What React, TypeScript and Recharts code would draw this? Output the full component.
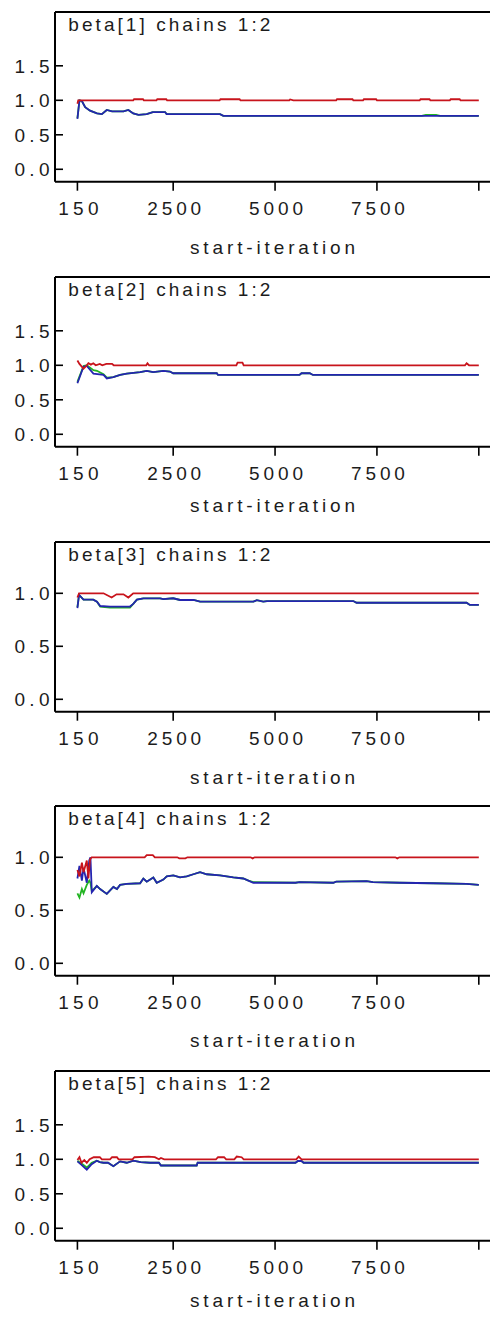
import React from 'react';
import { LineChart, Line, XAxis, YAxis, ReferenceLine } from 'recharts';

type Pt = [number, number];

// ---------- axis / tick data ----------
const xTicks = [150, 2500, 5000, 7500, 10000];
const xTickLabels = ['150', '2500', '5000', '7500', ''];
const yTicksWide = [0, 0.5, 1, 1.5];
const yTicksNarrow = [0, 0.5, 1];
const yTickLabels: Record<string, string> = { '0': '0.0', '0.5': '0.5', '1': '1.0', '1.5': '1.5' };
const titles = [
  'beta[1] chains 1:2',
  'beta[2] chains 1:2',
  'beta[3] chains 1:2',
  'beta[4] chains 1:2',
  'beta[5] chains 1:2',
];
const xAxisLabel = 'start-iteration';

// ---------- beta[1] ----------
const beta1Red: Pt[] = [[150,0.95],[170,1.0],[1520,1.0],[1540,1.015],[1760,1.015],[1780,1.0],[2090,1.0],[2110,1.015],[2330,1.015],[2350,1.0],[3640,1.0],[3660,1.015],[4130,1.015],[4150,1.0],[5350,1.0],[5370,1.012],[5450,1.0],[6500,1.0],[6520,1.015],[6900,1.015],[6920,1.0],[7160,1.0],[7180,1.015],[7480,1.015],[7500,1.0],[8550,1.0],[8570,1.015],[8790,1.015],[8810,1.0],[9290,1.0],[9310,1.015],[9530,1.015],[9550,1.0],[10000,1.0]];
const beta1Blue: Pt[] = [[150,0.73],[200,1.0],[260,0.99],[340,0.9],[460,0.85],[630,0.81],[750,0.8],[870,0.86],[1000,0.84],[1280,0.84],[1400,0.86],[1520,0.81],[1650,0.79],[1850,0.8],[2000,0.83],[2300,0.83],[2340,0.8],[3650,0.8],[3730,0.775],[10000,0.775]];
const beta1Green: Pt[] = [[150,0.74],[200,1.0],[260,0.99],[340,0.9],[460,0.85],[630,0.81],[750,0.8],[870,0.86],[1000,0.84],[1280,0.84],[1400,0.86],[1520,0.81],[1650,0.79],[1850,0.8],[2000,0.83],[2300,0.83],[2340,0.8],[3650,0.8],[3730,0.775],[8600,0.775],[8700,0.79],[8950,0.79],[9050,0.775],[10000,0.775]];

// ---------- beta[2] ----------
const beta2Red: Pt[] = [[150,1.07],[200,1.02],[300,0.95],[380,1.0],[420,1.03],[480,1.01],[540,1.03],[600,1.0],[700,1.02],[760,1.0],[860,1.02],[1000,1.02],[1040,1.0],[1840,1.0],[1870,1.03],[1910,1.0],[4050,1.0],[4080,1.04],[4200,1.04],[4230,1.0],[9660,1.0],[9700,1.03],[9760,1.0],[10000,1.0]];
const beta2Blue: Pt[] = [[150,0.74],[300,0.98],[380,0.99],[543,0.88],[790,0.86],[871,0.81],[1030,0.83],[1200,0.86],[1360,0.88],[1690,0.9],[1850,0.92],[2010,0.9],[2260,0.92],[2420,0.91],[2500,0.885],[3570,0.885],[3600,0.86],[5600,0.86],[5650,0.885],[5850,0.885],[5930,0.86],[10000,0.86]];
const beta2Green: Pt[] = [[150,0.76],[300,0.99],[380,1.0],[543,0.93],[630,0.92],[790,0.87],[871,0.82],[1030,0.83],[1200,0.86],[1360,0.88],[1690,0.9],[1850,0.92],[2010,0.9],[2260,0.92],[2420,0.91],[2500,0.885],[3570,0.885],[3600,0.86],[5600,0.86],[5650,0.885],[5850,0.885],[5930,0.86],[10000,0.86]];

// ---------- beta[3] ----------
const beta3Red: Pt[] = [[150,0.96],[190,1.0],[790,1.0],[990,0.96],[1110,0.99],[1280,0.99],[1400,0.96],[1520,1.0],[10000,1.0]];
const beta3Blue: Pt[] = [[150,0.86],[190,0.985],[300,0.94],[540,0.94],[630,0.92],[710,0.88],[950,0.875],[1440,0.875],[1520,0.9],[1610,0.94],[1770,0.953],[2180,0.953],[2260,0.945],[2500,0.953],[2670,0.937],[3000,0.937],[3160,0.921],[4470,0.921],[4550,0.935],[4710,0.921],[4800,0.927],[6920,0.927],[7000,0.911],[9700,0.911],[9780,0.89],[10000,0.89]];
const beta3Green: Pt[] = [[150,0.87],[190,0.985],[300,0.94],[540,0.94],[630,0.92],[710,0.875],[950,0.865],[1440,0.865],[1520,0.9],[1610,0.94],[1770,0.953],[2180,0.953],[2260,0.945],[2500,0.953],[2670,0.937],[3000,0.937],[3160,0.921],[4470,0.921],[4550,0.935],[4710,0.921],[4800,0.927],[6920,0.927],[7000,0.911],[9700,0.911],[9780,0.89],[10000,0.89]];

// ---------- beta[4] ----------
const beta4Red: Pt[] = [[150,0.88],[200,0.82],[260,0.95],[300,0.86],[380,0.97],[420,0.8],[460,0.98],[500,1.0],[1800,1.0],[1850,1.02],[2000,1.02],[2050,1.0],[2600,1.0],[2650,0.99],[2800,0.99],[2850,1.0],[4400,1.0],[4450,0.99],[4500,1.0],[7950,1.0],[8000,0.99],[8050,1.0],[10000,1.0]];
const beta4Blue: Pt[] = [[150,0.8],[200,0.92],[260,0.78],[300,0.9],[380,0.76],[440,0.97],[470,1.0],[503,0.67],[626,0.73],[707,0.7],[871,0.655],[1033,0.72],[1120,0.7],[1197,0.74],[1361,0.75],[1688,0.755],[1768,0.8],[1852,0.77],[2013,0.81],[2097,0.76],[2259,0.79],[2342,0.82],[2504,0.83],[2668,0.81],[2833,0.82],[2995,0.84],[3159,0.86],[3323,0.84],[3649,0.83],[3976,0.81],[4220,0.8],[4466,0.76],[5500,0.76],[5600,0.765],[6428,0.76],[6500,0.77],[7246,0.775],[7400,0.765],[8063,0.76],[8880,0.755],[9698,0.75],[10000,0.74]];
const beta4Green: Pt[] = [[150,0.66],[200,0.62],[260,0.7],[300,0.66],[380,0.74],[440,0.78],[470,0.76],[503,0.68],[626,0.73],[707,0.7],[871,0.655],[1033,0.72],[1120,0.7],[1197,0.74],[1361,0.75],[1688,0.755],[1768,0.8],[1852,0.77],[2013,0.81],[2097,0.76],[2259,0.79],[2342,0.82],[2504,0.83],[2668,0.81],[2833,0.82],[2995,0.84],[3159,0.86],[3323,0.84],[3649,0.83],[3976,0.81],[4220,0.8],[4350,0.78],[4466,0.765],[5500,0.76],[5600,0.765],[6428,0.76],[6500,0.77],[7246,0.775],[7400,0.765],[8063,0.76],[8880,0.755],[9698,0.75],[10000,0.74]];

// ---------- beta[5] ----------
const beta5Red: Pt[] = [[150,0.99],[200,1.03],[250,0.95],[320,0.99],[380,0.95],[450,1.0],[550,1.03],[700,1.03],[750,1.0],[950,1.0],[1000,1.03],[1120,1.03],[1160,1.0],[1500,1.0],[1550,1.03],[1900,1.04],[2050,1.03],[2150,1.0],[2200,1.02],[2280,1.0],[3550,1.0],[3600,1.03],[3750,1.03],[3800,1.0],[4000,1.0],[4060,1.04],[4180,1.03],[4230,1.0],[5520,1.0],[5580,1.04],[5650,1.0],[10000,1.0]];
const beta5Blue: Pt[] = [[150,0.97],[250,0.92],[380,0.85],[500,0.93],[626,0.98],[700,0.96],[788,0.95],[900,0.95],[1033,0.9],[1197,0.97],[1361,0.95],[1523,0.98],[1700,0.96],[1933,0.95],[2150,0.95],[2200,0.91],[3077,0.91],[3100,0.95],[5500,0.95],[5560,0.975],[5650,0.975],[5700,0.95],[10000,0.95]];
const beta5Green: Pt[] = [[150,0.98],[250,0.94],[380,0.88],[500,0.95],[626,0.98],[700,0.96],[788,0.95],[900,0.95],[1033,0.9],[1197,0.97],[1361,0.95],[1523,0.98],[1700,0.96],[1933,0.95],[2150,0.95],[2200,0.91],[3077,0.91],[3100,0.95],[5500,0.95],[5560,0.975],[5650,0.975],[5700,0.95],[10000,0.95]];

// ---------- layout / style ----------
const FONT = "'Liberation Sans', Arial, Helvetica, sans-serif";
const FS = 19;
const TEXT = '#1c1c1c';
const RED = '#c8141c';
const BLUE = '#2424b0';
const GREEN = '#22b422';
const X_DOMAIN: [number, number] = [-400, 10520];
const Y_DOMAIN_WIDE: [number, number] = [-0.18, 2.28];
const Y_DOMAIN_NARROW: [number, number] = [-0.117, 1.484];
const CHART_W = 500;
const CHART_H = 265;
const TOP_M = 12;
const PLOT_H = 169.7;
const Y_AXIS_W = 47;
const PANEL_STEP = 264.8;
const LABEL_BASELINES = [242, 235, 242, 241, 236];
const LINE_W = 1.8;

const toRows = (pts: Pt[]) => pts.map(([it, v]) => ({ it, v }));

const panels = [
  { title: titles[0], red: beta1Red, blue: beta1Blue, green: beta1Green, yDomain: Y_DOMAIN_WIDE, yTicks: yTicksWide },
  { title: titles[1], red: beta2Red, blue: beta2Blue, green: beta2Green, yDomain: Y_DOMAIN_WIDE, yTicks: yTicksWide },
  { title: titles[2], red: beta3Red, blue: beta3Blue, green: beta3Green, yDomain: Y_DOMAIN_NARROW, yTicks: yTicksNarrow },
  { title: titles[3], red: beta4Red, blue: beta4Blue, green: beta4Green, yDomain: Y_DOMAIN_NARROW, yTicks: yTicksNarrow },
  { title: titles[4], red: beta5Red, blue: beta5Blue, green: beta5Green, yDomain: Y_DOMAIN_WIDE, yTicks: yTicksWide },
];

const YTick = (props: any) => {
  const { y, payload } = props;
  const label = yTickLabels[String(payload.value)] ?? String(payload.value);
  return (
    <g>
      <line x1={Y_AXIS_W} x2={Y_AXIS_W + 8} y1={y} y2={y} stroke="#000" strokeWidth={1.6} />
      <text
        x={Y_AXIS_W - 5.5}
        y={y + 6.8}
        textAnchor="end"
        fontFamily={FONT}
        fontSize={FS}
        fill={TEXT}
        textLength={35}
        lengthAdjust="spacing"
      >
        {label}
      </text>
    </g>
  );
};

const XTick = (props: any) => {
  const { x, payload } = props;
  const idx = xTicks.indexOf(payload.value);
  const label = idx >= 0 ? xTickLabels[idx] : '';
  if (!label) return <g />;
  return (
    <text
      x={x + 1}
      y={TOP_M + 203.3}
      textAnchor="middle"
      fontFamily={FONT}
      fontSize={FS}
      fill={TEXT}
      textLength={label.length * 13.5}
      lengthAdjust="spacing"
    >
      {label}
    </text>
  );
};

const makeXLabel = (baseline: number) => () => (
  <text
    x={264.5}
    y={TOP_M + baseline}
    textAnchor="middle"
    fontFamily={FONT}
    fontSize={FS}
    fill={TEXT}
    textLength={165}
    lengthAdjust="spacing"
  >
    {xAxisLabel}
  </text>
);

const makeTitle = (title: string) => () => (
  <text
    x={60.3}
    y={TOP_M + 18.5}
    textAnchor="start"
    fontFamily={FONT}
    fontSize={FS}
    fill={TEXT}
    textLength={202}
    lengthAdjust="spacing"
  >
    {title}
  </text>
);

export default function App() {
  return (
    <div style={{ position: 'absolute', left: 8, top: 8, width: 482, height: 1309, overflow: 'hidden', background: '#fff' }}>
      {panels.map((p, k) => {
        const top = 12 + PANEL_STEP * k - 8 - TOP_M;
        const TitleLabel = makeTitle(p.title);
        const XLabel = makeXLabel(LABEL_BASELINES[k]);
        return (
          <div key={k} style={{ position: 'absolute', left: 0, top, width: CHART_W, height: CHART_H }}>
            <LineChart
              width={CHART_W}
              height={CHART_H}
              margin={{ top: TOP_M, right: 8, bottom: 0, left: 0 }}
            >
              <XAxis
                type="number"
                dataKey="it"
                domain={X_DOMAIN}
                allowDataOverflow
                ticks={xTicks}
                interval={0}
                height={CHART_H - TOP_M - PLOT_H}
                tickSize={9}
                tickLine={{ stroke: '#000', strokeWidth: 1.6 }}
                axisLine={{ stroke: '#000', strokeWidth: 2 }}
                tick={XTick}
                label={XLabel}
              />
              <YAxis
                type="number"
                domain={p.yDomain}
                allowDataOverflow
                ticks={p.yTicks}
                interval={0}
                width={Y_AXIS_W}
                tickLine={false}
                tickSize={0}
                axisLine={{ stroke: '#000', strokeWidth: 2 }}
                tick={YTick}
              />
              <ReferenceLine y={p.yDomain[1]} stroke="#000" strokeWidth={2} label={TitleLabel} />
              <Line data={toRows(p.green)} dataKey="v" type="linear" stroke={GREEN} strokeWidth={LINE_W} dot={false} isAnimationActive={false} />
              <Line data={toRows(p.blue)} dataKey="v" type="linear" stroke={BLUE} strokeWidth={LINE_W} dot={false} isAnimationActive={false} />
              <Line data={toRows(p.red)} dataKey="v" type="linear" stroke={RED} strokeWidth={LINE_W} dot={false} isAnimationActive={false} />
            </LineChart>
          </div>
        );
      })}
    </div>
  );
}
